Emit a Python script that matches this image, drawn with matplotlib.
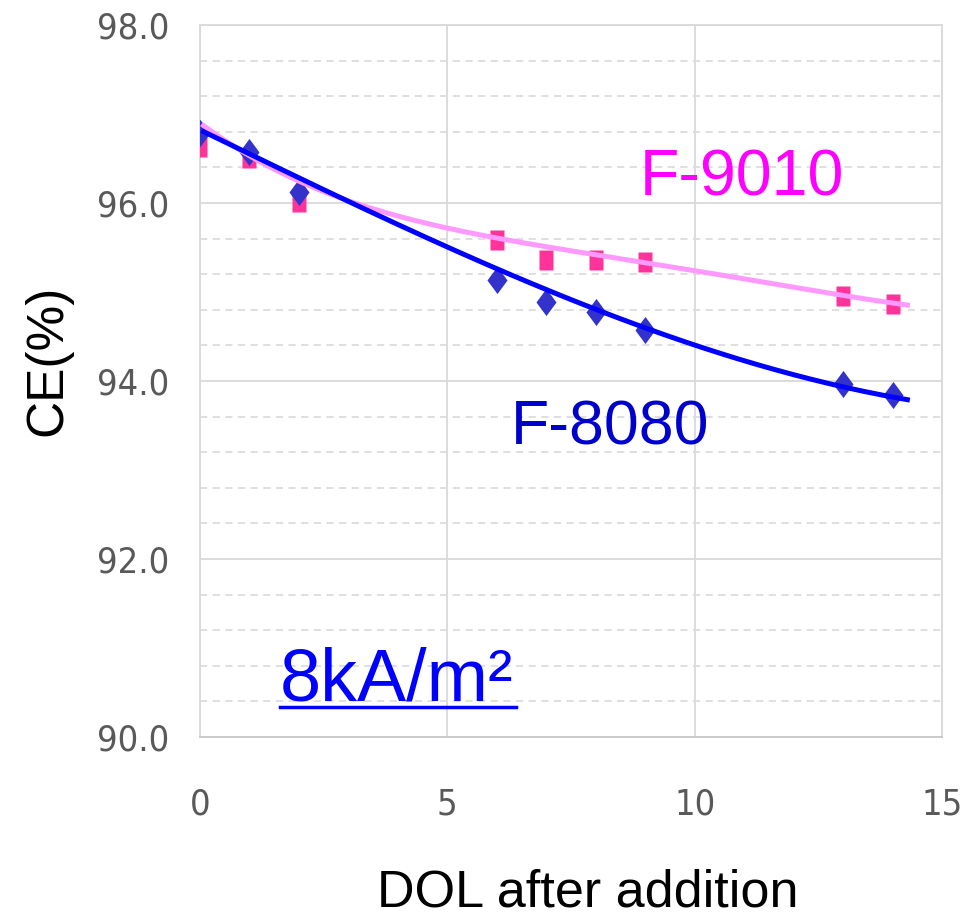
import numpy as np
import matplotlib
matplotlib.use("Agg")
import matplotlib.pyplot as plt
from matplotlib.path import Path

# ---- data ----
days = [0, 1, 2, 6, 7, 8, 9, 13, 14]
ce_f8080 = [96.79, 96.57, 96.12, 95.13, 94.89, 94.78, 94.57, 93.97, 93.84]
ce_f9010 = [96.63, 96.51, 96.01, 95.58, 95.36, 95.36, 95.34, 94.96, 94.87]
# trendline ordinates
trend_x9010 = [0.03, 1.0, 2.0, 3.17, 5.0, 6.0, 7.0, 8.0, 9.0, 10.1, 13.0, 14.35]
trend_y9010 = [96.89, 96.54, 96.22, 95.99, 95.74, 95.62, 95.51, 95.40, 95.32, 95.23, 94.98, 94.84]
trend_x8080 = [0.03, 4.5, 4.85, 6.0, 7.0, 8.0, 9.0, 9.9, 13.0, 14.35]
trend_y8080 = [96.81, 95.64, 95.56, 95.25, 95.01, 94.80, 94.61, 94.41, 93.96, 93.77]
xticks = [0, 5, 10, 15]
yticks = [90.0, 92.0, 94.0, 96.0, 98.0]
label_f8080 = "F-8080"
label_f9010 = "F-9010"
current_label = "8kA/m²"
xlabel = "DOL after addition"
ylabel = "CE(%)"

arial = ["Liberation Sans", "DejaVu Sans"]

fig = plt.figure(figsize=(9.70, 9.21), dpi=100)
ax = fig.add_axes([200/970, 1-737/921, 742/970, 712/921])

ax.set_xlim(0, 15)
ax.set_ylim(90, 98)
ax.set_xticks(xticks)
ax.set_yticks(yticks)
ax.set_yticks(np.arange(90, 98.01, 0.4), minor=True)
ax.set_xticklabels([str(t) for t in xticks])
ax.set_yticklabels([f"{t:.1f}" for t in yticks])
ax.grid(True, which="major", color="#D9D9D9", lw=1.3)
ax.grid(True, which="minor", axis="y", color="#DCDCDC", lw=1.3, ls=(0, (4, 3)))
ax.set_axisbelow(True)
for s in ax.spines.values():
    s.set_color("#D9D9D9")
    s.set_linewidth(1.3)
ax.spines["bottom"].set_color("#C8C8C8")
ax.tick_params(which="both", length=0)
ax.tick_params(axis="y", pad=22)
ax.tick_params(axis="x", pad=36)
for lab in ax.get_xticklabels() + ax.get_yticklabels():
    lab.set_family("DejaVu Sans")
    lab.set_stretch("condensed")
    lab.set_fontsize(26)
    lab.set_color("#595959")

# markers
diamond = Path([(0, 1), (0.74, 0), (0, -1), (-0.74, 0), (0, 1)],
               [Path.MOVETO, Path.LINETO, Path.LINETO, Path.LINETO, Path.CLOSEPOLY])
rect = Path([(-0.72, -1), (0.72, -1), (0.72, 1), (-0.72, 1), (-0.72, -1)],
            [Path.MOVETO, Path.LINETO, Path.LINETO, Path.LINETO, Path.CLOSEPOLY])

ax.plot(days, ce_f9010, ls="none", marker=rect, ms=15, color="#FF3399", mec="none", zorder=3)
ax.plot(days, ce_f8080, ls="none", marker=diamond, ms=19.5, color="#3333CC", mec="none", zorder=3)

# smooth trendlines through the read trend values
xx9 = np.linspace(trend_x9010[0], trend_x9010[-1], 200)
xx8 = np.linspace(trend_x8080[0], trend_x8080[-1], 200)
p9 = np.polyfit(trend_x9010, trend_y9010, 4)
p8 = np.polyfit(trend_x8080, trend_y8080, 3)
ax.plot(xx9, np.polyval(p9, xx9), color="#FF99FF", lw=3.6, zorder=4, solid_capstyle="butt")
ax.plot(xx8, np.polyval(p8, xx8), color="#0000FF", lw=3.6, zorder=5, solid_capstyle="butt")

# labels
fig.text(742/970, 1-178/921, label_f9010, color="#FF00FF", fontsize=46.5,
         family=arial, ha="center", va="center")
fig.text(610/970, 1-428/921, label_f8080, color="#0000CC", fontsize=45,
         family=arial, ha="center", va="center")
t = fig.text(280/970, 1-700/921, current_label, color="#0000FF", fontsize=53,
             family=arial, ha="left", va="baseline")
fig.canvas.draw()
bb = t.get_window_extent(renderer=fig.canvas.get_renderer())
uy = (921 - 707) / 921
fig.add_artist(plt.Line2D([bb.x0/970, (bb.x1 + 3)/970], [uy, uy], color="#0000FF", lw=2.5,
                          transform=fig.transFigure))

fig.text(48/970, 1-360/921, ylabel, rotation=90, fontsize=37, family=arial,
         ha="center", va="center", color="black")
fig.text(588/970, 1-893/921, xlabel, fontsize=37.5, family=arial,
         ha="center", va="center", color="black")

fig.savefig("out.png", dpi=100)
